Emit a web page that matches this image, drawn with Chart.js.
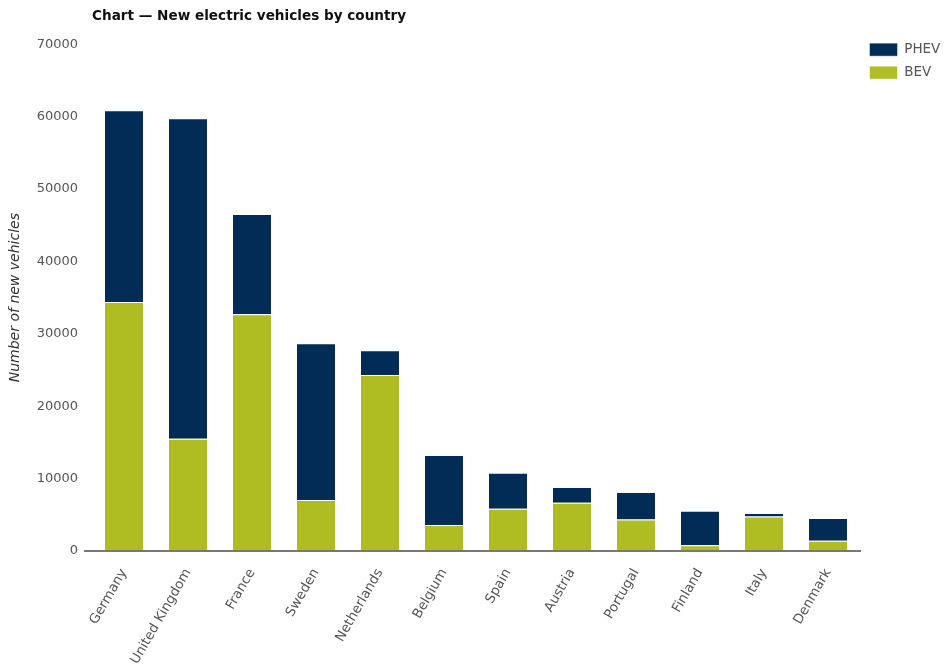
<!DOCTYPE html>
<html>
<head>
<meta charset="utf-8">
<title>New electric vehicles by country</title>
<script src="https://cdn.jsdelivr.net/npm/chart.js@4/dist/chart.umd.min.js"></script>
<style>
  html, body { margin: 0; padding: 0; background: #fff; }
  #wrap { width: 944px; height: 666px; position: relative; }
</style>
</head>
<body>
<div id="wrap"><canvas id="evChart"></canvas></div>
<script>
"use strict"

// data
const countries = ["Germany", "United Kingdom", "France", "Sweden", "Netherlands", "Belgium",
  "Spain", "Austria", "Portugal", "Finland", "Italy", "Denmark"];
const bev  = [34400, 15500, 32700, 7050, 24300, 3600, 5850, 6650, 4350, 800, 4750, 1400];
const phev = [26500, 44300, 13850, 21650, 3450, 9650, 4950, 2200, 3800, 4750, 500, 3150];
const yTicks = [0, 10000, 20000, 30000, 40000, 50000, 60000, 70000];

const FONT = "'DejaVu Sans', Verdana, sans-serif";
const GREY = '#555555';

let ctx = document.getElementById('evChart').getContext('2d');
let chart = new Chart(ctx, {
  type: 'bar',
  data: {
    labels: countries,
    datasets: [{
      label: 'BEV',
      data: bev,
      backgroundColor: '#afbc22',
      borderColor: 'rgba(255,255,255,0.6)',
      borderWidth: 1
    }, {
      label: 'PHEV',
      data: phev,
      backgroundColor: '#022c55',
      borderColor: 'rgba(255,255,255,0.45)',
      borderWidth: 1
    }]
  },
  options: {
    responsive: true,
    maintainAspectRatio: false,
    animation: false,
    layout: { padding: 0 },
    datasets: { bar: { categoryPercentage: 1, barPercentage: 0.625 } },
    plugins: {
      title: {
        display: true,
        text: 'Chart \u2014 New electric vehicles by country',
        align: 'start',
        fullSize: false,
        color: '#111',
        font: { family: FONT, size: 13.6, weight: 'bold' },
        padding: { top: 8, bottom: 20 }
      },
      legend: {
        position: 'right',
        align: 'start',
        fullSize: true,
        reverse: true,
        maxWidth: 84,
        title: {
          // empty title only to push the items down to the plot top
          display: true,
          text: '',
          font: { size: 12 },
          padding: { top: 9, bottom: 10 }
        },
        labels: {
          boxWidth: 28,
          boxHeight: 13,
          padding: 9.5,
          color: GREY,
          font: { family: FONT, size: 13.5 }
        }
      },
      tooltip: { enabled: false }
    },
    scales: {
      x: {
        stacked: true,
        grid: { display: false },
        border: { display: true, color: '#777', width: 2 },
        afterFit: axis => { axis.height = 115; },
        ticks: {
          color: GREY,
          font: { family: FONT, size: 13.4 },
          minRotation: 60,
          maxRotation: 60,
          padding: 7
        }
      },
      y: {
        stacked: true,
        min: 0,
        max: 70000,
        afterBuildTicks: axis => { axis.ticks = yTicks.map(v => ({ value: v })); },
        afterFit: axis => { axis.width = 92; },
        grid: {
          drawOnChartArea: false,
          tickLength: 8,
          lineWidth: 2,
          color: c => (c.tick && c.tick.value === 0) ? '#777' : 'rgba(0,0,0,0)'
        },
        border: { display: false },
        ticks: {
          color: GREY,
          font: { family: FONT, size: 13 },
          padding: 6,
          callback: v => String(v)
        },
        title: {
          display: true,
          text: 'Number of new vehicles',
          color: '#333',
          font: { family: FONT, size: 14, style: 'italic' },
          padding: { top: 7, bottom: 0 }
        }
      }
    }
  }
});
</script>
</body>
</html>
